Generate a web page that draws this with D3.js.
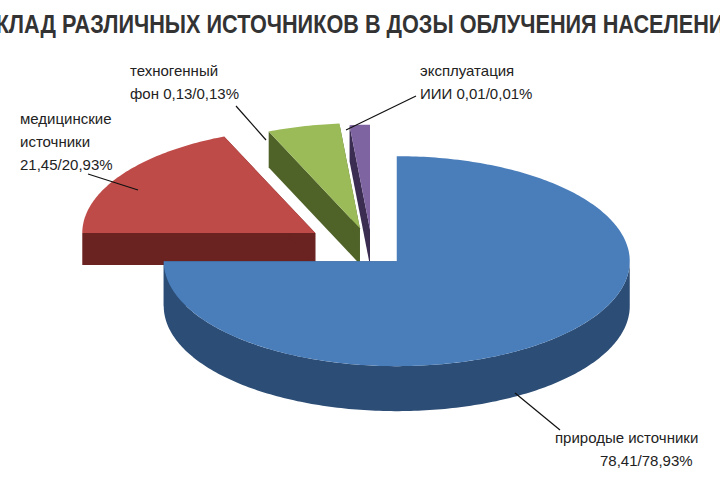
<!DOCTYPE html>
<html><head><meta charset="utf-8">
<script src="https://cdn.jsdelivr.net/npm/d3@7"></script>
<style>body{margin:0;background:#fff}</style></head>
<body><svg id="c" width="720" height="480"></svg>
<script>
const title = "ВКЛАД РАЗЛИЧНЫХ ИСТОЧНИКОВ В ДОЗЫ ОБЛУЧЕНИЯ НАСЕЛЕНИЯ";
const categories = ["природые источники","медицинские источники","техногенный фон","эксплуатация ИИИ"];
const labelValues = ["78,41/78,93%","21,45/20,93%","0,13/0,13%","0,01/0,01%"];
// angular shares as drawn in the picture (%)
const drawnShare = [75, 18.6, 5, 1.4];
const topColors = ["#4a7ebb","#be4b48","#9bbb59","#7f64a2"];
const sideColors = ["#2c4d75","#6b2321","#4f6228","#3b2d52"];

const svg = d3.select("#c");
svg.append("text").attr("x",-20).attr("y",33).attr("textLength",760).attr("lengthAdjust","spacingAndGlyphs")
  .attr("font-family","Liberation Sans Narrow, Liberation Sans, sans-serif").attr("font-weight","bold")
  .attr("font-size",25).attr("fill","#333").text(title);

const cx=372, cy=250, rx=233, ry=105;
const depths=[45,32,36,36];
const explode=[35,68,50,45];
const ang = d3.scaleLinear().domain([0,d3.sum(drawnShare)]).range([0,2*Math.PI]);
const cum=[0]; drawnShare.forEach((v,i)=>cum.push(cum[i]+v));
const slices = drawnShare.map((v,i)=>{
  const a0=ang(cum[i]), a1=ang(cum[i+1]), m=(a0+a1)/2;
  const ox=cx+Math.sin(m)*explode[i], oy=cy-Math.cos(m)*explode[i]*ry/rx;
  return {i,a0,a1,ox,oy,depth:depths[i]};
});
const pt=(s,t,dz=0)=>[s.ox+rx*Math.sin(t), s.oy-ry*Math.cos(t)+dz];
function arcPts(s,t0,t1,dz){const n=Math.max(4,Math.ceil((t1-t0)*60));return d3.range(n+1).map(k=>pt(s,t0+(t1-t0)*k/n,dz));}
const line=d3.line();
function draw(s){
  const g=svg.append("g"), depth=s.depth;
  const c=[s.ox,s.oy], cb=[s.ox,s.oy+depth];
  [s.a0,s.a1].forEach(t=>{
    const p=pt(s,t),pb=pt(s,t,depth);
    g.append("path").attr("d",line([c,p,pb,cb])+"Z").attr("fill",sideColors[s.i]);
  });
  const t0=Math.max(s.a0,Math.PI/2), t1=Math.min(s.a1,3*Math.PI/2);
  if(t1>t0){
    const top=arcPts(s,t0,t1,0), bot=arcPts(s,t0,t1,depth).reverse();
    g.append("path").attr("d",line(top.concat(bot))+"Z").attr("fill",sideColors[s.i]);
  }
  g.append("path").attr("d",line([c].concat(arcPts(s,s.a0,s.a1,0)))+"Z").attr("fill",topColors[s.i]);
}
[3,2,1,0].forEach(i=>draw(slices[i]));

const lab=[
 {lines:["техногенный","фон "+labelValues[2]],x:130,y:76,l:[[236,106],[266,140]]},
 {lines:["медицинские","источники",labelValues[1]],x:20,y:124,l:[[88,174],[138,190]]},
 {lines:["эксплуатация","ИИИ "+labelValues[3]],x:420,y:76,l:[[416,96],[346,130]]},
 {lines:[categories[0],labelValues[0]],x:555,y:443,l:[[560,430],[515,393]]}
];
lab.forEach((d,k)=>{
  svg.append("path").attr("d",line(d.l)).attr("stroke","#111").attr("stroke-width",1.2);
  d.lines.forEach((t,j)=>svg.append("text").attr("x",k==3&&j==1?d.x+45:d.x).attr("y",d.y+j*23)
    .attr("font-family","Liberation Sans, sans-serif").attr("font-size",15).attr("fill","#222").text(t));
});
</script></body></html>
